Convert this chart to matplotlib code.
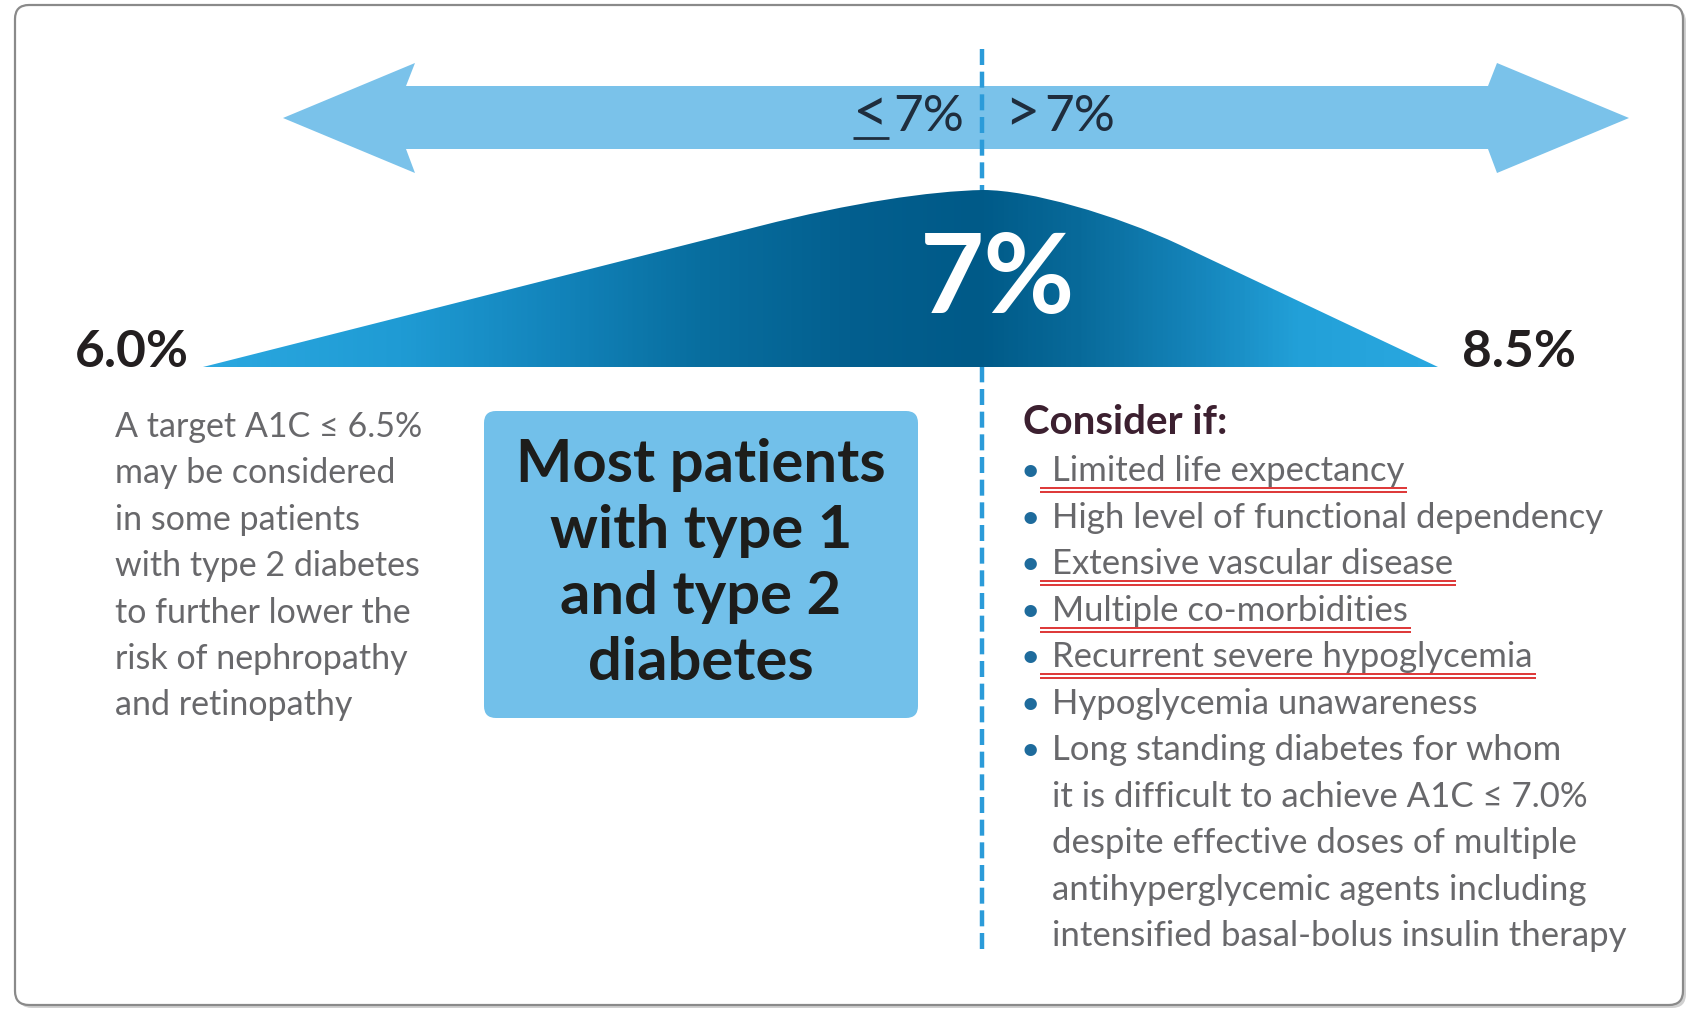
import numpy as np
import matplotlib
matplotlib.use('Agg')
import matplotlib.pyplot as plt
from matplotlib.path import Path
from matplotlib.patches import PathPatch, Polygon, FancyBboxPatch
from matplotlib.colors import LinearSegmentedColormap

plt.rcParams['font.family'] = ['Lato', 'DejaVu Sans']

# A1C target labels
range_labels = ['6.0%', '7%', '8.5%']
split_signs = ['<', '>']
split_value = '7%'

left_note = [
    'A target A1C ≤ 6.5%',
    'may be considered',
    'in some patients',
    'with type 2 diabetes',
    'to further lower the',
    'risk of nephropathy',
    'and retinopathy',
]

box_lines = ['Most patients', 'with type 1', 'and type 2', 'diabetes']

consider_title = 'Consider if:'
consider_items = [
    ['Limited life expectancy'],
    ['High level of functional dependency'],
    ['Extensive vascular disease'],
    ['Multiple co-morbidities'],
    ['Recurrent severe hypoglycemia'],
    ['Hypoglycemia unawareness'],
    ['Long standing diabetes for whom',
     'it is difficult to achieve A1C ≤ 7.0%',
     'despite effective doses of multiple',
     'antihyperglycemic agents including',
     'intensified basal-bolus insulin therapy'],
]
marked = [True, False, True, True, True, False, False]

W, H = 1692, 1011
fig = plt.figure(figsize=(W / 100, H / 100), dpi=100)
ax = fig.add_axes([0, 0, 1, 1])
ax.set_xlim(0, W)
ax.set_ylim(H, 0)
ax.axis('off')

# outer frame with a soft shadow
ax.add_patch(FancyBboxPatch((18, 8), 1668, 1000, boxstyle='round,pad=0,rounding_size=14',
                            fc='#d0d0d0', ec='none', zorder=0))
ax.add_patch(FancyBboxPatch((15, 5), 1668, 1000, boxstyle='round,pad=0,rounding_size=14',
                            fc='white', ec='#8a8a8a', lw=1.6, zorder=0.5))

# double-headed arrow
arrow = [(283, 118), (415, 63), (406, 86), (1488, 86), (1497, 63), (1629, 118),
         (1497, 173), (1488, 149), (406, 149), (415, 173)]
ax.add_patch(Polygon(arrow, closed=True, fc='#7ac2ea', ec='none', zorder=1))

# dashed divider at 7%
ax.plot([982, 982], [49, 955], color='#2b9bd9', lw=3.2, dashes=(3.6, 1.5), zorder=2)

# bell shape filled with a horizontal gradient
verts = [(203, 367), (760, 226), (850, 203), (930, 191), (983, 190),
         (1030, 190), (1115, 214.5), (1180, 245), (1438, 367), (203, 367)]
codes = [Path.MOVETO, Path.LINETO, Path.CURVE4, Path.CURVE4, Path.CURVE4,
         Path.CURVE4, Path.CURVE4, Path.CURVE4, Path.LINETO, Path.CLOSEPOLY]
bell = PathPatch(Path(verts, codes), fc='none', ec='none', zorder=3)
ax.add_patch(bell)

stops_x = np.array([203, 400, 560, 700, 850, 980, 1080, 1200, 1300, 1438])
stops_c = ['#2ba8e0', '#1f9bd4', '#1283ba', '#086e9f', '#035f8f', '#005a88',
           '#086a9a', '#1585bb', '#22a0d8', '#2aa8e0']
pos = (stops_x - 203) / (1438 - 203)
cmap = LinearSegmentedColormap.from_list('bell', list(zip(pos, stops_c)))
grad = np.linspace(0, 1, 800)[None, :]
im = ax.imshow(grad, cmap=cmap, extent=(203, 1438, 368, 185), aspect='auto', zorder=3)
im.set_clip_path(bell)

ax.set_xlim(0, W)
ax.set_ylim(H, 0)

# "≤7%" / ">7%" on the arrow
arrow_txt = '#1f2d3d'
ax.text(871, 115, split_signs[0], ha='center', va='center', fontsize=44, color=arrow_txt, zorder=4)
ax.plot([853, 889], [138, 138], color=arrow_txt, lw=2, solid_capstyle='butt', zorder=4)
ax.text(893, 117, split_value, ha='left', va='center', fontsize=37, color=arrow_txt, zorder=4)
ax.text(1022, 115, split_signs[1], ha='center', va='center', fontsize=44, color=arrow_txt, zorder=4)
ax.text(1044, 117, split_value, ha='left', va='center', fontsize=37, color=arrow_txt, zorder=4)

# labels on the bell
ax.text(998, 281, range_labels[1], ha='center', va='center', fontsize=80, fontweight='bold',
        color='white', zorder=5)
ax.text(189, 367, range_labels[0], ha='right', va='baseline', fontsize=37, fontweight='bold',
        color='#231f20', zorder=4)
ax.text(1462, 367, range_labels[2], ha='left', va='baseline', fontsize=37, fontweight='bold',
        color='#231f20', zorder=4)

body = '#68686b'

# left note
for i, line in enumerate(left_note):
    ax.text(115, 437 + i * 46.4, line, ha='left', va='baseline', fontsize=24.5,
            color=body, zorder=4)

# centre box
ax.add_patch(FancyBboxPatch((484, 411), 434, 307, boxstyle='round,pad=0,rounding_size=12',
                            fc='#72c0ea', ec='none', zorder=3))
for i, line in enumerate(box_lines):
    ax.text(701, 482 + i * 66, line, ha='center', va='baseline', fontsize=43,
            fontweight='bold', color='#1d1d1b', zorder=4)

# consider list
ax.text(1023, 434, consider_title, ha='left', va='baseline', fontsize=29,
        fontweight='bold', color='#3c2030', zorder=4)

row = 0
first_texts = []
for item in consider_items:
    y0 = 481 + row * 46.55
    ax.text(1030, y0, '•', ha='center', va='baseline', fontsize=24, color='#1e6b9c', zorder=4)
    for j, line in enumerate(item):
        t = ax.text(1052, 481 + row * 46.55, line, ha='left', va='baseline', fontsize=25,
                    color=body, zorder=4)
        if j == 0:
            first_texts.append((t, 481 + row * 46.55))
        row += 1

# red double underline under the marked items
fig.canvas.draw()
renderer = fig.canvas.get_renderer()
for (t, yb), m in zip(first_texts, marked):
    if not m:
        continue
    bb = t.get_window_extent(renderer)
    for dy in (7, 11):
        ax.plot([bb.x0 - 12, bb.x1 + 3], [yb + dy, yb + dy], color='#d40000', lw=1.1,
                solid_capstyle='butt', zorder=4)

fig.savefig('out.png', dpi=100)
